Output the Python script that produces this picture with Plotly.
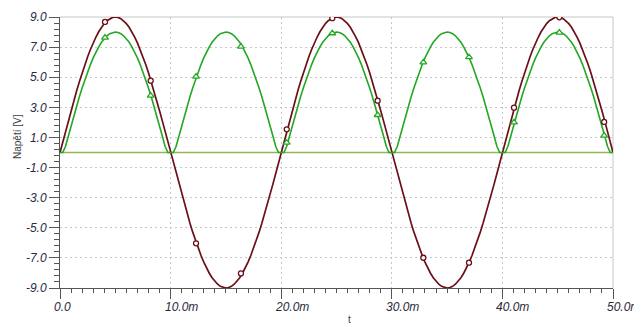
import plotly.graph_objects as go

# time axis in ms (sampling grid)
t = [round(i * 0.25, 2) for i in range(201)]

# input voltage (dark red)
u_in = [
    0.00,
    0.71, 1.41, 2.10, 2.78, 3.44, 4.09, 4.70, 5.29, 5.85, 6.36, 6.84, 7.28, 7.67, 8.02, 8.32, 8.56, 8.75, 8.89, 8.97, 9.00,
    8.97, 8.89, 8.75, 8.56, 8.32, 8.02, 7.67, 7.28, 6.84, 6.36, 5.85, 5.29, 4.70, 4.09, 3.44, 2.78, 2.10, 1.41, 0.71, 0.00,
    -0.71, -1.41, -2.10, -2.78, -3.44, -4.09, -4.70, -5.29, -5.85, -6.36, -6.84, -7.28, -7.67, -8.02, -8.32, -8.56, -8.75, -8.89, -8.97, -9.00,
    -8.97, -8.89, -8.75, -8.56, -8.32, -8.02, -7.67, -7.28, -6.84, -6.36, -5.85, -5.29, -4.70, -4.09, -3.44, -2.78, -2.10, -1.41, -0.71, 0.00,
    0.71, 1.41, 2.10, 2.78, 3.44, 4.09, 4.70, 5.29, 5.85, 6.36, 6.84, 7.28, 7.67, 8.02, 8.32, 8.56, 8.75, 8.89, 8.97, 9.00,
    8.97, 8.89, 8.75, 8.56, 8.32, 8.02, 7.67, 7.28, 6.84, 6.36, 5.85, 5.29, 4.70, 4.09, 3.44, 2.78, 2.10, 1.41, 0.71, 0.00,
    -0.71, -1.41, -2.10, -2.78, -3.44, -4.09, -4.70, -5.29, -5.85, -6.36, -6.84, -7.28, -7.67, -8.02, -8.32, -8.56, -8.75, -8.89, -8.97, -9.00,
    -8.97, -8.89, -8.75, -8.56, -8.32, -8.02, -7.67, -7.28, -6.84, -6.36, -5.85, -5.29, -4.70, -4.09, -3.44, -2.78, -2.10, -1.41, -0.71, 0.00,
    0.71, 1.41, 2.10, 2.78, 3.44, 4.09, 4.70, 5.29, 5.85, 6.36, 6.84, 7.28, 7.67, 8.02, 8.32, 8.56, 8.75, 8.89, 8.97, 9.00,
    8.97, 8.89, 8.75, 8.56, 8.32, 8.02, 7.67, 7.28, 6.84, 6.36, 5.85, 5.29, 4.70, 4.09, 3.44, 2.78, 2.10, 1.41, 0.71, 0.00,
]

# rectified output voltage (green)
u_out = [
    0.00,
    0.00, 0.41, 1.10, 1.78, 2.44, 3.09, 3.70, 4.29, 4.85, 5.36, 5.84, 6.28, 6.67, 7.02, 7.32, 7.56, 7.75, 7.89, 7.97, 8.00,
    7.97, 7.89, 7.75, 7.56, 7.32, 7.02, 6.67, 6.28, 5.84, 5.36, 4.85, 4.29, 3.70, 3.09, 2.44, 1.78, 1.10, 0.41, 0.00, 0.00,
    0.00, 0.41, 1.10, 1.78, 2.44, 3.09, 3.70, 4.29, 4.85, 5.36, 5.84, 6.28, 6.67, 7.02, 7.32, 7.56, 7.75, 7.89, 7.97, 8.00,
    7.97, 7.89, 7.75, 7.56, 7.32, 7.02, 6.67, 6.28, 5.84, 5.36, 4.85, 4.29, 3.70, 3.09, 2.44, 1.78, 1.10, 0.41, 0.00, 0.00,
    0.00, 0.41, 1.10, 1.78, 2.44, 3.09, 3.70, 4.29, 4.85, 5.36, 5.84, 6.28, 6.67, 7.02, 7.32, 7.56, 7.75, 7.89, 7.97, 8.00,
    7.97, 7.89, 7.75, 7.56, 7.32, 7.02, 6.67, 6.28, 5.84, 5.36, 4.85, 4.29, 3.70, 3.09, 2.44, 1.78, 1.10, 0.41, 0.00, 0.00,
    0.00, 0.41, 1.10, 1.78, 2.44, 3.09, 3.70, 4.29, 4.85, 5.36, 5.84, 6.28, 6.67, 7.02, 7.32, 7.56, 7.75, 7.89, 7.97, 8.00,
    7.97, 7.89, 7.75, 7.56, 7.32, 7.02, 6.67, 6.28, 5.84, 5.36, 4.85, 4.29, 3.70, 3.09, 2.44, 1.78, 1.10, 0.41, 0.00, 0.00,
    0.00, 0.41, 1.10, 1.78, 2.44, 3.09, 3.70, 4.29, 4.85, 5.36, 5.84, 6.28, 6.67, 7.02, 7.32, 7.56, 7.75, 7.89, 7.97, 8.00,
    7.97, 7.89, 7.75, 7.56, 7.32, 7.02, 6.67, 6.28, 5.84, 5.36, 4.85, 4.29, 3.70, 3.09, 2.44, 1.78, 1.10, 0.41, 0.00, 0.00,
]

# ground reference (olive line)
t_ref = [0, 50]
u_ref = [0, 0]

# marker positions
t_mark = [4.07, 8.2, 12.3, 16.36, 20.5, 24.62, 28.72, 32.85, 36.98, 41.05, 45.15, 49.2]
u_in_mark = [8.67, 4.77, -6.03, -8.03, 1.54, 8.92, 3.44, -6.99, -7.32, 2.98, 8.98, 2.03]
u_out_mark = [7.63, 3.78, 5.04, 7.03, 0.65, 7.92, 2.49, 5.99, 6.33, 2.00, 7.96, 1.12]

# tick labels
x_tick_vals = [0, 10, 20, 30, 40, 50]
x_tick_text = ["0.0", "10.0m", "20.0m", "30.0m", "40.0m", "50.0m"]
y_tick_vals = [9, 7, 5, 3, 1, -1, -3, -5, -7, -9]
y_tick_text = ["9.0", "7.0", "5.0", "3.0", "1.0", "-1.0", "-3.0", "-5.0", "-7.0", "-9.0"]

RED = "#6b1018"
GREEN = "#22a822"
OLIVE = "#92b356"
AXIS = "#555555"
GRID = "#c4c8c8"
LABEL = "#2a2a3c"
FONT = "Liberation Sans"

# the page body adds an 8px offset; figure is sized to fit the 642x327 window
W, H = 634, 319
L, R, T, B = 52, 29, 9, 39
PW, PH = W - L - R, H - T - B

fig = go.Figure()
fig.add_trace(go.Scatter(x=t_ref, y=u_ref, mode="lines",
                         line=dict(color=OLIVE, width=1.5), hoverinfo="skip"))
fig.add_trace(go.Scatter(x=t, y=u_in, mode="lines",
                         line=dict(color=RED, width=1.7)))
fig.add_trace(go.Scatter(x=t, y=u_out, mode="lines",
                         line=dict(color=GREEN, width=1.6)))
fig.add_trace(go.Scatter(x=t_mark, y=u_in_mark, mode="markers",
                         marker=dict(symbol="circle", size=5, color="white",
                                     line=dict(color=RED, width=1.3))))
fig.add_trace(go.Scatter(x=t_mark, y=u_out_mark, mode="markers",
                         marker=dict(symbol="triangle-up", size=6, color="white",
                                     line=dict(color=GREEN, width=1.3))))

annotations = []
for v, s in zip(x_tick_vals, x_tick_text):
    annotations.append(dict(x=v, y=0, xref="x", yref="paper", text=s,
                            showarrow=False, xanchor="left", yanchor="middle",
                            xshift=-8, yshift=-19,
                            font=dict(family=FONT, size=12, color=LABEL, style="italic")))
annotations.append(dict(x=(9 - L) / PW, y=(PH + T - 129) / PH, xref="paper", yref="paper",
                        text="Napětí [V]",
                        showarrow=False, textangle=-90, xanchor="center", yanchor="middle",
                        font=dict(family=FONT, size=10, color="#404040")))
annotations.append(dict(x=26.2, y=0, xref="x", yref="paper", text="t",
                        showarrow=False, xanchor="center", yanchor="middle",
                        yshift=-31, font=dict(family=FONT, size=10, color="#404040")))

fig.update_layout(
    width=W, height=H,
    margin=dict(l=L, r=R, t=T, b=B, autoexpand=False),
    paper_bgcolor="white", plot_bgcolor="white",
    showlegend=False,
    annotations=annotations,
    shapes=[
        dict(type="line", xref="paper", yref="paper", x0=0, x1=1, y0=1, y1=1,
             line=dict(color=GRID, width=1), layer="below"),
        dict(type="line", xref="paper", yref="paper", x0=1, x1=1, y0=0, y1=1,
             line=dict(color=GRID, width=1), layer="below"),
    ],
    xaxis=dict(
        range=[0, 50], showticklabels=False, automargin=False,
        tickvals=x_tick_vals, ticks="outside", ticklen=10, tickcolor=AXIS, tickwidth=1,
        showline=True, linecolor=AXIS, linewidth=1,
        showgrid=True, gridcolor=GRID, griddash="2px,3px", gridwidth=1,
        zeroline=False,
        minor=dict(dtick=1, tick0=0, ticks="outside", ticklen=4, tickcolor=AXIS, showgrid=False),
    ),
    yaxis=dict(
        range=[-9, 9], automargin=False,
        tickvals=y_tick_vals, ticktext=y_tick_text,
        ticks="outside", ticklen=10, tickcolor=AXIS, tickwidth=1,
        tickfont=dict(family=FONT, size=12, color=LABEL, style="italic"),
        showline=True, linecolor=AXIS, linewidth=1,
        showgrid=True, gridcolor=GRID, griddash="2px,3px", gridwidth=1,
        zeroline=False,
        minor=dict(dtick=0.4, tick0=-9, ticks="outside", ticklen=5, tickcolor=AXIS, showgrid=False),
    ),
)

fig.write_html("out.html")
